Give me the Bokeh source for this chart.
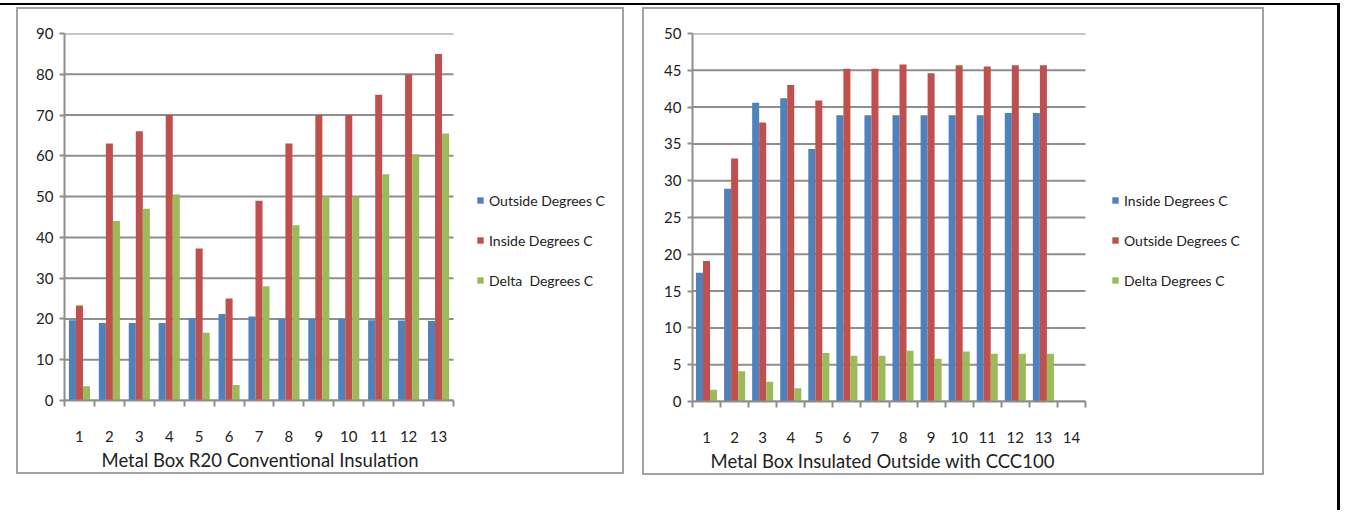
from bokeh.plotting import figure
from bokeh.models import Range1d, FixedTicker, Legend, LegendItem, ColumnDataSource, Title
from bokeh.layouts import row
from bokeh.transform import dodge
from bokeh.embed import file_html
from bokeh.resources import INLINE

# Run numbers (category axis)
r20_runs = [1, 2, 3, 4, 5, 6, 7, 8, 9, 10, 11, 12, 13]
r20_ticks = [1, 2, 3, 4, 5, 6, 7, 8, 9, 10, 11, 12, 13]
r20_yticks = [0, 10, 20, 30, 40, 50, 60, 70, 80, 90]
r20_outside = [19.7, 19.0, 19.0, 19.0, 20.2, 21.2, 20.6, 20.0, 20.0, 20.0, 19.7, 19.6, 19.5]
r20_inside = [23.3, 63.0, 66.0, 70.0, 37.3, 25.0, 49.0, 63.0, 70.0, 70.0, 75.0, 80.0, 85.0]
r20_delta = [3.5, 44.0, 47.0, 50.5, 16.6, 3.8, 28.0, 43.0, 50.0, 50.0, 55.5, 60.4, 65.5]

ccc_runs = [1, 2, 3, 4, 5, 6, 7, 8, 9, 10, 11, 12, 13]
ccc_ticks = [1, 2, 3, 4, 5, 6, 7, 8, 9, 10, 11, 12, 13, 14]
ccc_yticks = [0, 5, 10, 15, 20, 25, 30, 35, 40, 45, 50]
ccc_inside = [17.5, 28.9, 40.6, 41.2, 34.3, 38.9, 38.9, 38.9, 38.9, 38.9, 38.9, 39.2, 39.2]
ccc_outside = [19.1, 33.0, 37.9, 43.0, 40.9, 45.2, 45.2, 45.8, 44.6, 45.7, 45.5, 45.7, 45.7]
ccc_delta = [1.6, 4.1, 2.7, 1.8, 6.6, 6.2, 6.2, 6.9, 5.8, 6.8, 6.5, 6.5, 6.5]

BLUE = "#4f81bd"
RED = "#c0504d"
GREEN = "#9bbb59"
GRID = "#8e8e8e"
TEXT = "#222222"
FONT = "Lato"


def make_chart(runs, ticks, yticks, series, names, colors, title,
               width, height, b_left, b_top, b_bottom, data_w, bar_w,
               legend_at, title_offset):
    n = len(ticks)
    b_right = 10
    frame_w = width - b_left - b_right
    # the frame also holds the legend; the category axis keeps data_w pixels
    x_end = 0.5 + n * frame_w / data_w
    p = figure(width=width, height=height,
               x_range=Range1d(0.5, x_end), y_range=Range1d(yticks[0], yticks[-1]),
               output_backend="svg", toolbar_location=None, tools="",
               min_border_left=b_left, min_border_top=b_top,
               min_border_right=b_right, min_border_bottom=b_bottom)
    p.outline_line_color = None
    p.background_fill_color = "white"
    p.border_fill_color = "white"
    p.xgrid.grid_line_color = None
    p.ygrid.grid_line_color = None

    # horizontal gridlines across the category span only
    p.segment(x0=[0.5] * len(yticks), x1=[n + 0.5] * len(yticks), y0=yticks, y1=yticks,
              line_color=GRID, line_width=2)

    data = {"x": runs}
    for nm, vals in zip(names, series):
        data[nm] = vals
    src = ColumnDataSource(data)

    items = []
    offsets = [-bar_w, 0.0, bar_w]
    for nm, col, off in zip(names, colors, offsets):
        r = p.vbar(x=dodge("x", off, range=p.x_range), top=nm, width=bar_w,
                   source=src, fill_color=col, line_color=None)
        items.append(LegendItem(label=nm, renderers=[r]))

    # y axis
    p.yaxis.ticker = FixedTicker(ticks=yticks)
    p.yaxis.axis_line_color = GRID
    p.yaxis.axis_line_width = 2
    p.yaxis.major_tick_line_color = GRID
    p.yaxis.major_tick_line_width = 2
    p.yaxis.major_tick_out = 5
    p.yaxis.major_tick_in = 0
    p.yaxis.minor_tick_line_color = None
    p.yaxis.major_label_standoff = 6
    p.yaxis.major_label_text_font = FONT
    p.yaxis.major_label_text_font_size = "15px"
    p.yaxis.major_label_text_color = TEXT

    # x axis: run numbers, tick marks between categories
    p.xaxis.bounds = (0.5, n + 0.5)
    p.xaxis.ticker = FixedTicker(ticks=ticks,
                                 minor_ticks=[t + 0.5 for t in [0] + ticks])
    p.xaxis.axis_line_color = GRID
    p.xaxis.axis_line_width = 2
    p.xaxis.major_tick_line_color = None
    p.xaxis.minor_tick_line_color = GRID
    p.xaxis.minor_tick_line_width = 2
    p.xaxis.minor_tick_out = 6
    p.xaxis.minor_tick_in = 0
    p.xaxis.major_label_standoff = 24
    p.xaxis.major_label_text_font = FONT
    p.xaxis.major_label_text_font_size = "15px"
    p.xaxis.major_label_text_color = TEXT

    p.add_layout(Title(text=title, align="left", offset=title_offset, standoff=8,
                       vertical_align="top",
                       text_font=FONT, text_font_size="18.5px", text_font_style="normal",
                       text_color=TEXT), "below")

    legend = Legend(items=items, location=legend_at, orientation="vertical",
                    glyph_width=8, glyph_height=8, label_standoff=5,
                    label_text_font=FONT, label_text_font_size="14px",
                    label_text_color=TEXT, label_height=20, spacing=20,
                    border_line_color=None, background_fill_alpha=0,
                    margin=0, padding=0)
    p.add_layout(legend, "center")

    p.styles = {"border": "2px solid #a3a3a3"}
    return p


left = make_chart(r20_runs, r20_ticks, r20_yticks, [r20_outside, r20_inside, r20_delta],
                  ["Outside Degrees C", "Inside Degrees C", "Delta  Degrees C"],
                  [BLUE, RED, GREEN],
                  "Metal Box R20 Conventional Insulation",
                  width=608, height=467, b_left=46, b_top=24, b_bottom=76,
                  data_w=389, bar_w=0.235, legend_at=(412, 110), title_offset=37)
left.margin = (2, 0, 0, 16)

right = make_chart(ccc_runs, ccc_ticks, ccc_yticks, [ccc_inside, ccc_outside, ccc_delta],
                   ["Inside Degrees C", "Outside Degrees C", "Delta Degrees C"],
                   [BLUE, RED, GREEN],
                   "Metal Box Insulated Outside with CCC100",
                   width=622, height=468, b_left=48, b_top=19, b_bottom=76,
                   data_w=393, bar_w=0.25, legend_at=(419, 111), title_offset=18)
right.margin = (2, 0, 0, 18)

page = row(left, right, width=1340, height=507,
           styles={"border-top": "2px solid black", "border-right": "3px solid black",
                   "margin-top": "3px", "background": "white"})

open("out.html", "w").write(file_html(page, INLINE))
